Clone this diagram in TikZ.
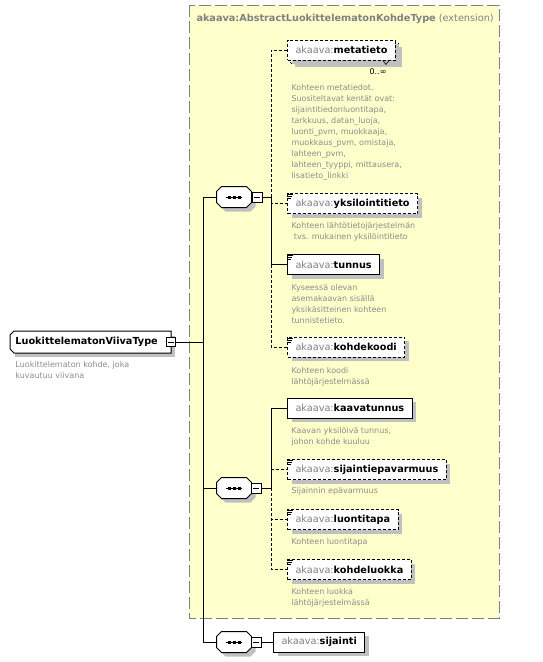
\documentclass[tikz,border=0pt]{standalone}
\usepackage{fontspec}
\setmainfont{DejaVu Sans}
\usepackage{tikz}
\usetikzlibrary{shadows}

\definecolor{extfill}{HTML}{FFFFCC}
\definecolor{extline}{HTML}{7F7F7F}
\definecolor{nsgrey}{HTML}{808080}
\definecolor{docgrey}{HTML}{8C8C8C}
\definecolor{shadegrey}{HTML}{C0C0C0}

\newcommand{\nsname}[1]{{\color{nsgrey}akaava:}\textbf{#1}}
\newcommand{\elicon}[1]{%
  \draw[line width=.8pt] ([yshift=-1.5pt]#1.north west) -- ++(6,0)
    ([yshift=-3.5pt]#1.north west) -- ++(5,0)
    ([yshift=-5.5pt]#1.north west) -- ++(4,0);}
\newcommand{\chamferbox}[4]{% options, node, left chamfer, right chamfer
  \path[#1] ([xshift=#3]#2.north west) -- ([xshift=-#4]#2.north east)
    -- ([yshift=-#4]#2.north east) -- ([yshift=#4]#2.south east)
    -- ([xshift=-#4]#2.south east) -- ([xshift=#3]#2.south west)
    -- ([yshift=#3]#2.south west) -- ([yshift=-#3]#2.north west) -- cycle;}
\newcommand{\seqshape}[1]{%
  \chamferbox{fill=shadegrey, transform canvas={xshift=4pt,yshift=-4pt}}{#1}{5pt}{5pt}
  \chamferbox{draw, fill=white}{#1}{5pt}{5pt}
  \draw ([xshift=-8pt]#1.center) -- ([xshift=8pt]#1.center);
  \foreach \dx in {-5,0,5}
    \fill ([xshift=\dx pt]#1.center) ++(-1.5,-1.5) rectangle ++(3,3);}
\newcommand{\minusmark}[1]{%
  \draw[line width=.8pt] ([xshift=-3pt]#1.center) -- ([xshift=3pt]#1.center);}

\begin{document}
\begin{tikzpicture}[x=1pt, y=-1pt, line width=1pt,
    every node/.style={font=\fontsize{9.7}{12}\selectfont},
    elbox/.style={draw, fill=white, anchor=west, minimum height=20pt,
      inner xsep=8pt, inner ysep=0pt,
      drop shadow={shadow xshift=4pt, shadow yshift=-4pt, fill=shadegrey, opacity=1}},
    optbox/.style={elbox, dash pattern=on 3pt off 2pt},
    optline/.style={dash pattern=on 3pt off 2pt},
    docnote/.style={anchor=north west, inner sep=0pt, align=left, text=docgrey,
      font=\fontsize{8}{11}\selectfont},
    seqbox/.style={inner sep=0pt, minimum width=34pt, minimum height=20pt},
    minusbox/.style={draw, fill=white, inner sep=0pt, minimum size=10pt},
    rootbox/.style={fill=white, anchor=west, minimum height=21pt,
      inner xsep=5pt, inner ysep=0pt, text width=150pt, align=left,
      font=\fontsize{9.7}{12}\selectfont\bfseries,
      drop shadow={shadow xshift=4pt, shadow yshift=-4pt, fill=shadegrey, opacity=1}},
    extframe/.style={draw=extline, fill=extfill, dash pattern=on 12pt off 4pt}]

    \useasboundingbox (0,0) rectangle (542,662);

    \draw[extframe] (189,5) rectangle (499,618);
    \node[anchor=west, inner sep=0pt, text=nsgrey] (exttitle) at (196,19)
      {\textbf{akaava:AbstractLuokittelematonKohdeType} (extension)};

    \node[rootbox] (root) at (10,342) {LuokittelematonViivaType};
    \chamferbox{draw}{root}{4pt}{0pt}
    \node[minusbox, minimum size=9pt] (rootminus) at (171,342) {};
    \minusmark{rootminus}
    \node[docnote] (rootdoc) at (15,361) {Luokittelematon kohde, joka\\kuvautuu viivana};

    \node[seqbox] (seqA) at (234,197) {};
    \seqshape{seqA}
    \node[minusbox] (seqAminus) at (257,197) {};
    \minusmark{seqAminus}
    \node[seqbox] (seqB) at (234,488) {};
    \seqshape{seqB}
    \node[minusbox] (seqBminus) at (256,488) {};
    \minusmark{seqBminus}
    \node[seqbox] (seqC) at (234,642) {};
    \seqshape{seqC}
    \node[minusbox] (seqCminus) at (256,642) {};
    \minusmark{seqCminus}

    \node[optbox] (metatietoback) at (290,53) {\phantom{\nsname{metatieto}}};
    \node[optbox] (metatieto) at (287,50) {\nsname{metatieto}};
    \draw[line width=.6pt] ([xshift=-13pt]metatieto.south east) -- ++(3,4) -- ++(3,-4);
    \node[font=\fontsize{8}{10}\selectfont, inner sep=0pt] (metatietoocc)
      at (378,72) {0..∞};
    \node[docnote] (metatietodoc) at (291,84) {Kohteen metatiedot.\\Suositeltavat kentät ovat:\\
      sijaintitiedonluontitapa,\\tarkkuus, datan\_luoja,\\luonti\_pvm, muokkaaja,\\
      muokkaus\_pvm, omistaja,\\lahteen\_pvm,\\lahteen\_tyyppi, mittausera,\\lisatieto\_linkki};

    \node[optbox] (yksilointitieto) at (287,203.5) {\nsname{yksilointitieto}};
    \elicon{yksilointitieto}
    \node[docnote] (yksilointitietodoc) at (291,222)
      {Kohteen lähtötietojärjestelmän\\\hspace*{.3em}tvs. mukainen yksilöintitieto};

    \node[elbox] (tunnus) at (287,264.5) {\nsname{tunnus}};
    \elicon{tunnus}
    \node[docnote] (tunnusdoc) at (291,284)
      {Kyseessä olevan\\asemakaavan sisällä\\yksikäsitteinen kohteen\\tunnistetieto.};

    \node[optbox] (kohdekoodi) at (287,347) {\nsname{kohdekoodi}};
    \elicon{kohdekoodi}
    \node[docnote] (kohdekoodidoc) at (291,367) {Kohteen koodi\\lähtöjärjestelmässä};

    \node[elbox] (kaavatunnus) at (287,408) {\nsname{kaavatunnus}};
    \node[docnote] (kaavatunnusdoc) at (291,427) {Kaavan yksilöivä tunnus,\\johon kohde kuuluu};

    \node[optbox] (sijaintiepavarmuus) at (287,469.5) {\nsname{sijaintiepavarmuus}};
    \elicon{sijaintiepavarmuus}
    \node[docnote] (sijaintiepavarmuusdoc) at (291,487) {Sijainnin epävarmuus};

    \node[optbox] (luontitapa) at (287,519.5) {\nsname{luontitapa}};
    \elicon{luontitapa}
    \node[docnote] (luontitapadoc) at (291,538) {Kohteen luontitapa};

    \node[optbox] (kohdeluokka) at (287,569.5) {\nsname{kohdeluokka}};
    \elicon{kohdeluokka}
    \node[docnote] (kohdeluokkadoc) at (291,588) {Kohteen luokka\\lähtöjärjestelmässä};

    \node[elbox] (sijainti) at (273,642) {\nsname{sijainti}};

    \coordinate (trunk) at (203,342);
    \draw (rootminus.east) -- (trunk);
    \draw (seqA.west) -- (seqA.west -| trunk) -- (seqC.west -| trunk) -- (seqC.west);
    \draw (seqB.west) -- (seqB.west -| trunk);

    \coordinate (busA) at (271,197);
    \draw (seqAminus.east) -- (busA);
    \draw[optline] (busA) |- (metatieto.west);
    \draw[optline] (busA) |- (yksilointitieto.west);
    \draw (busA) |- (tunnus.west);
    \draw[optline] (busA |- tunnus.west) |- (kohdekoodi.west);

    \coordinate (busB) at (271,488);
    \draw (seqBminus.east) -- (busB);
    \draw (busB) |- (kaavatunnus.west);
    \draw[optline] (busB |- sijaintiepavarmuus.west) -- (sijaintiepavarmuus.west);
    \draw[optline] (busB) |- (luontitapa.west);
    \draw[optline] (busB) |- (kohdeluokka.west);

    \draw (seqCminus.east) -- (sijainti.west);
\end{tikzpicture}
\end{document}
